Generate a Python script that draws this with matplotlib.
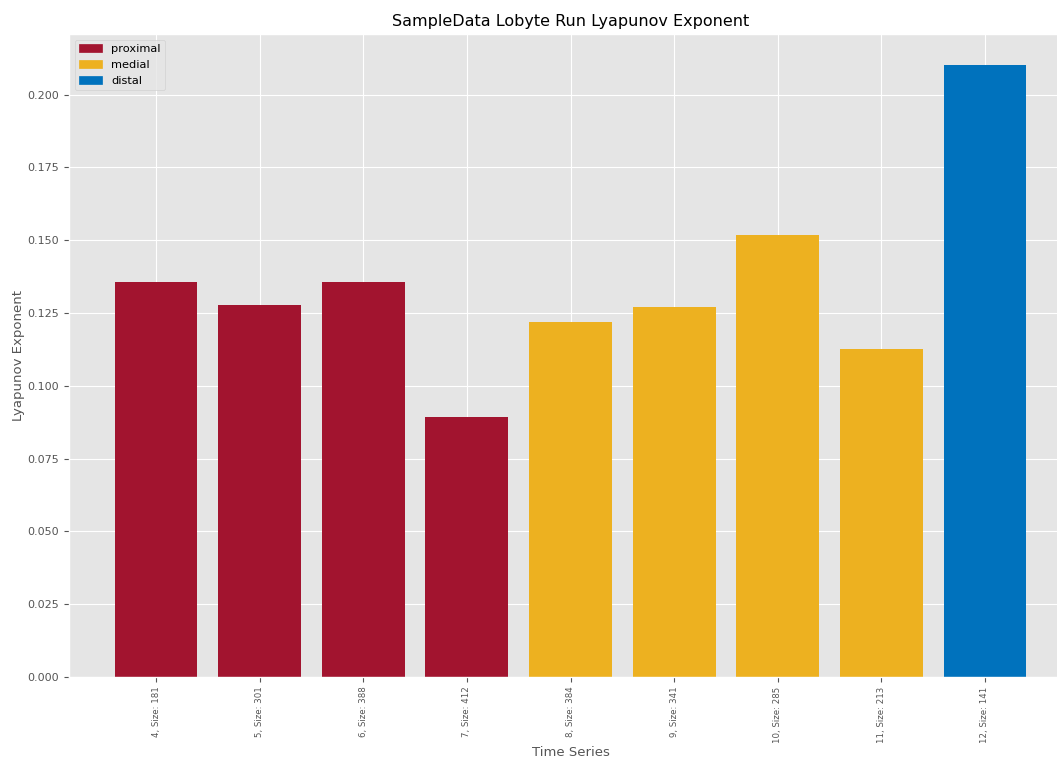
import numpy as np
import matplotlib
matplotlib.use("Agg")
import matplotlib.pyplot as plt
from matplotlib.patches import Patch

plt.style.use("ggplot")

# Data
series_ids = [4, 5, 6, 7, 8, 9, 10, 11, 12]
sizes = [181, 301, 388, 412, 384, 341, 285, 213, 141]
lyap = [0.1358, 0.1277, 0.1355, 0.0893, 0.1218, 0.1270, 0.1518, 0.1126, 0.2103]
groups = ["proximal", "proximal", "proximal", "proximal",
          "medial", "medial", "medial", "medial", "distal"]

colors = {"proximal": "#A2142F", "medial": "#EDB120", "distal": "#0072BD"}

labels = ["{}, Size: {}".format(i, s) for i, s in zip(series_ids, sizes)]
x = np.arange(len(lyap))

fig = plt.figure(figsize=(10.57, 7.59), dpi=100)
ax = fig.add_axes([69 / 1057, 1 - 677 / 759, 1003 / 1057, 643 / 759])

ax.bar(x, lyap, width=0.8, color=[colors[g] for g in groups])
ax.set_xticks(x)
ax.set_xticklabels(labels, rotation=90, fontsize=6.2)
ax.tick_params(axis="y", labelsize=8)
ax.set_xlabel("Time Series", fontsize=9.5)
ax.xaxis.set_label_coords(0.5, -0.107)
ax.set_ylabel("Lyapunov Exponent", fontsize=9.5, labelpad=1.5)
ax.set_title("SampleData Lobyte Run Lyapunov Exponent", fontsize=11.5)

handles = [Patch(color=colors[g], label=g) for g in ["proximal", "medial", "distal"]]
ax.legend(handles=handles, loc="upper left", fontsize=8.2)

fig.savefig("out.png", dpi=100)
